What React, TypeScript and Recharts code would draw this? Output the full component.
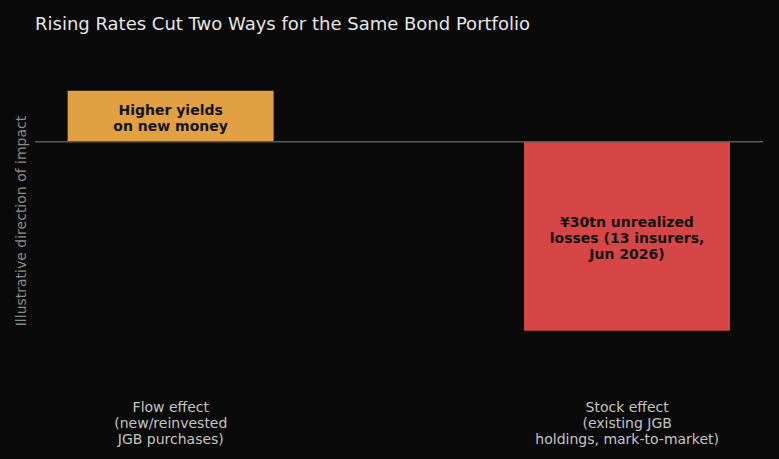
import { BarChart, Bar, XAxis, YAxis, Cell, ReferenceLine, LabelList } from 'recharts'

const positions = [0, 1]
const categoryLines = [
  ['Flow effect', '(new/reinvested', 'JGB purchases)'],
  ['Stock effect', '(existing JGB', 'holdings, mark-to-market)'],
]
const impact = [1, -3.7]
const barLabels = [
  ['Higher yields', 'on new money'],
  ['¥30tn unrealized', 'losses (13 insurers,', 'Jun 2026)'],
]
const barColors = ['#E1A042', '#D64646']

const data = positions.map((x, i) => ({ x, value: impact[i], idx: i }))

const FONT = '"DejaVu Sans", sans-serif'

function CategoryTick(props: any) {
  const { x, y, payload } = props
  const i = positions.indexOf(payload.value)
  const lines = categoryLines[i] ?? []
  return (
    <text x={x} y={y + 17} textAnchor="middle" fill="#c4c4c4" fontSize={14} fontFamily={FONT}>
      {lines.map((l, k) => (
        <tspan key={k} x={x} dy={k === 0 ? 0 : 16}>
          {l}
        </tspan>
      ))}
    </text>
  )
}

function BarText(props: any) {
  const { x, y, width, height, index } = props
  const lines = barLabels[index] ?? []
  const cx = x + width / 2
  const cy = y + height / 2 + 1.5
  const start = cy - ((lines.length - 1) * 16) / 2
  return (
    <text textAnchor="middle" fill="#141414" fontSize={14} fontWeight="bold" fontFamily={FONT}>
      {lines.map((l, k) => (
        <tspan key={k} x={cx} y={start + k * 16} dominantBaseline="central">
          {l}
        </tspan>
      ))}
    </text>
  )
}

export default function App() {
  return (
    <div
      style={{
        position: 'absolute',
        top: 0,
        left: 0,
        width: 779,
        height: 459,
        background: '#0a0a0a',
        fontFamily: FONT,
        overflow: 'hidden',
      }}
    >
      <div
        style={{
          position: 'absolute',
          left: 35,
          top: 13,
          fontSize: 18,
          color: '#e6e6e6',
          whiteSpace: 'nowrap',
        }}
      >
        Rising Rates Cut Two Ways for the Same Bond Portfolio
      </div>
      <div
        style={{
          position: 'absolute',
          left: 21,
          top: 221,
          transform: 'translate(-50%, -50%) rotate(-90deg)',
          fontSize: 14,
          color: '#8a8a8a',
          whiteSpace: 'nowrap',
        }}
      >
        Illustrative direction of impact
      </div>
      <BarChart
        width={779}
        height={459}
        data={data}
        margin={{ top: 60, right: 16, bottom: 12, left: 35 }}
        style={{ position: 'absolute', top: 0, left: 0 }}
      >
        <XAxis
          type="number"
          dataKey="x"
          domain={[-0.2976, 1.2976]}
          ticks={positions}
          tickLine={false}
          axisLine={false}
          height={60}
          tick={<CategoryTick />}
          interval={0}
        />
        <YAxis hide domain={[-4.8, 1.6]} />
        <Bar dataKey="value" barSize={206} isAnimationActive={false}>
          {data.map((d) => (
            <Cell key={d.idx} fill={barColors[d.idx]} />
          ))}
          <LabelList dataKey="value" content={<BarText />} />
        </Bar>
        <ReferenceLine y={0} stroke="#5a5a5a" strokeWidth={1.5} />
      </BarChart>
    </div>
  )
}
